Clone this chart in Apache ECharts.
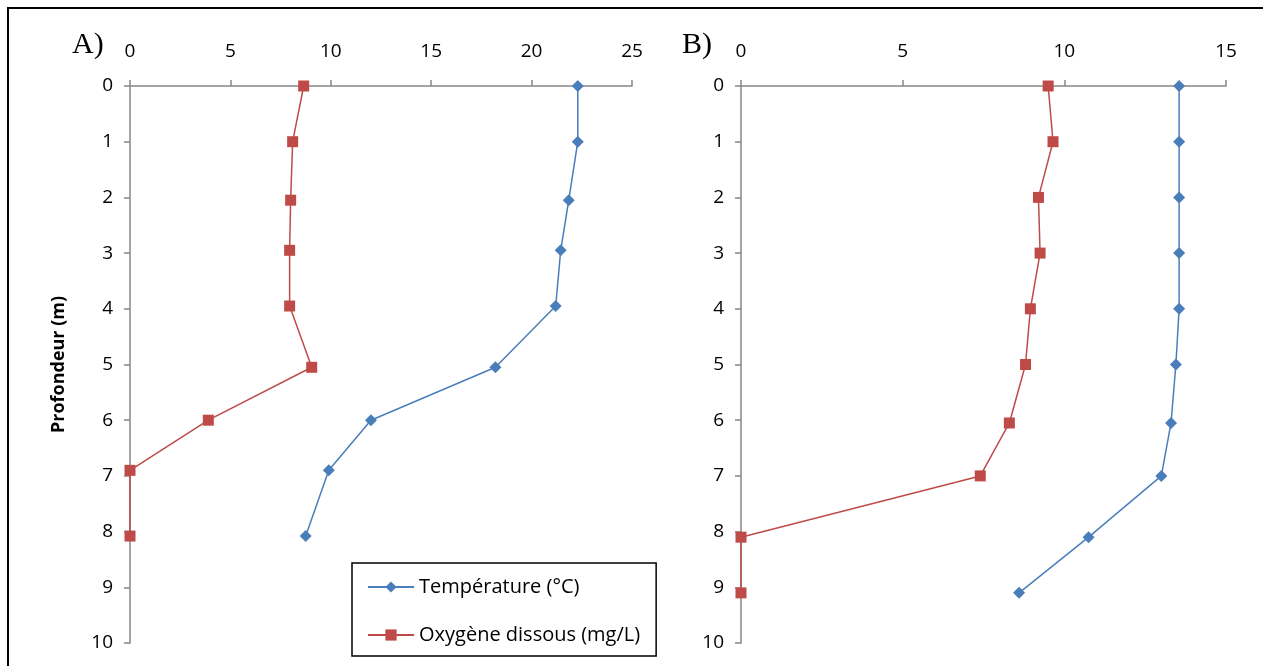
<!DOCTYPE html>
<html>
<head>
<meta charset="utf-8">
<script src="https://cdn.jsdelivr.net/npm/echarts@6/dist/echarts.min.js"></script>
<style>
  html, body { margin: 0; padding: 0; background: #fff; }
  #main { width: 1263px; height: 666px; }
</style>
</head>
<body>
<div id="main"></div>
<script>
// profondeurs (m)
const depthA = [0, 1, 2.05, 2.95, 3.95, 5.05, 6, 6.9, 8.08];
const depthB = [0, 1, 2, 3, 4, 5, 6.05, 7, 8.1, 9.1];
// lac A
const tempA = [22.3, 22.3, 21.85, 21.45, 21.2, 18.2, 12.0, 9.9, 8.75];
const oxyA = [8.65, 8.1, 8.0, 7.95, 7.95, 9.05, 3.9, 0, 0];
// lac B
const tempB = [13.55, 13.55, 13.55, 13.55, 13.55, 13.45, 13.3, 13.0, 10.75, 8.6];
const oxyB = [9.5, 9.65, 9.2, 9.25, 8.95, 8.8, 8.3, 7.4, 0, 0];
// axes
const xTicksA = { min: 0, max: 25, interval: 5 };
const xTicksB = { min: 0, max: 15, interval: 5 };
const depthTicks = { min: 0, max: 10, interval: 1 };

const nameTemp = 'Température (°C)';
const nameOxy = 'Oxygène dissous (mg/L)';
const blue = '#4a7ebb';
const red = '#be4b48';
const axisGray = '#868686';
const font = 'Open Sans';

function pairs(xs, ys) {
  return xs.map((v, i) => [v, ys[i]]);
}

function xAxisOf(idx, ticks) {
  return {
    gridIndex: idx,
    type: 'value',
    position: 'top',
    min: ticks.min,
    max: ticks.max,
    interval: ticks.interval,
    axisLine: { show: true, lineStyle: { color: axisGray, width: 1.5 } },
    axisTick: { show: true, length: 6, lineStyle: { color: axisGray, width: 1.5 } },
    axisLabel: { color: '#000', fontSize: 19, fontFamily: font, margin: 25 },
    splitLine: { show: false }
  };
}

function yAxisOf(idx, withName) {
  return {
    gridIndex: idx,
    type: 'value',
    inverse: true,
    min: depthTicks.min,
    max: depthTicks.max,
    interval: depthTicks.interval,
    name: withName ? 'Profondeur (m)' : '',
    nameLocation: 'middle',
    nameRotate: 90,
    nameGap: 62,
    nameTextStyle: { color: '#000', fontSize: 18, fontWeight: 'bold', fontFamily: font },
    axisLine: { show: true, lineStyle: { color: axisGray, width: 1.5 } },
    axisTick: { show: true, length: 6, lineStyle: { color: axisGray, width: 1.5 } },
    axisLabel: { color: '#000', fontSize: 19, fontFamily: font, margin: 17 },
    splitLine: { show: false }
  };
}

function lineSeries(name, idx, data, color, symbol) {
  return {
    name: name,
    type: 'line',
    xAxisIndex: idx,
    yAxisIndex: idx,
    data: data,
    symbol: symbol,
    symbolSize: symbol === 'diamond' ? 12 : 11,
    showSymbol: true,
    animation: false,
    lineStyle: { color: color, width: 1.5 },
    itemStyle: { color: color }
  };
}

const chart = echarts.init(document.getElementById('main'), null, { renderer: 'canvas' });
chart.setOption({
  backgroundColor: '#fff',
  animation: false,
  textStyle: { fontFamily: font },
  grid: [
    { left: 130, top: 86, width: 502, height: 557, outerBoundsMode: 'none' },
    { left: 741, top: 86, width: 485, height: 557, outerBoundsMode: 'none' }
  ],
  xAxis: [xAxisOf(0, xTicksA), xAxisOf(1, xTicksB)],
  yAxis: [yAxisOf(0, true), yAxisOf(1, false)],
  legend: {
    data: [nameTemp, nameOxy],
    orient: 'vertical',
    left: 352,
    top: 563,
    padding: [14, 16, 11, 15],
    itemWidth: 46,
    itemHeight: 14,
    itemGap: 28,
    borderColor: '#000',
    borderWidth: 1.5,
    textStyle: { color: '#000', fontSize: 20, fontFamily: font }
  },
  graphic: [
    {
      type: 'rect',
      shape: { x: 8, y: 8, width: 1400, height: 800 },
      style: { fill: 'none', stroke: '#000', lineWidth: 2 },
      silent: true
    },
    {
      type: 'text',
      left: 72,
      top: 30,
      style: { text: 'A)', font: '30px "Liberation Serif"', fill: '#000' }
    },
    {
      type: 'text',
      left: 682,
      top: 30,
      style: { text: 'B)', font: '30px "Liberation Serif"', fill: '#000' }
    }
  ],
  series: [
    lineSeries(nameTemp, 0, pairs(tempA, depthA), blue, 'diamond'),
    lineSeries(nameOxy, 0, pairs(oxyA, depthA), red, 'rect'),
    lineSeries(nameTemp, 1, pairs(tempB, depthB), blue, 'diamond'),
    lineSeries(nameOxy, 1, pairs(oxyB, depthB), red, 'rect')
  ]
});
</script>
</body>
</html>
